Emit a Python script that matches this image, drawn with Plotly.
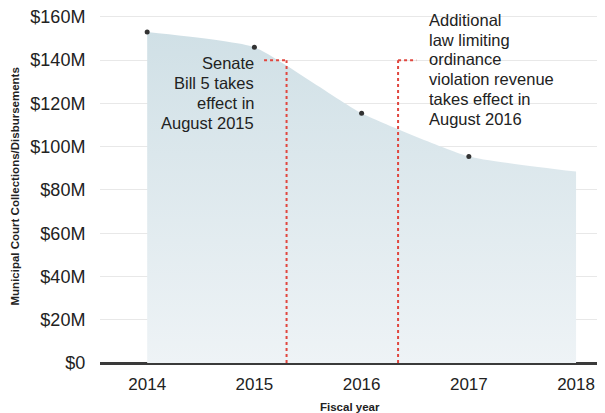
import plotly.graph_objects as go

years = [2014, 2015, 2016, 2017, 2018]
collections = [153, 146, 115.5, 95.5, 88.5]  # $M
point_years = [2014, 2015, 2016, 2017]
point_values = [153, 146, 115.5, 95.5]
y_ticks = [0, 20, 40, 60, 80, 100, 120, 140, 160]
y_tick_labels = ["$0", "$20M", "$40M", "$60M", "$80M", "$100M", "$120M", "$140M", "$160M"]
events_x = [2015.30, 2016.34]
event_top = 140
note1_lines = ["Senate", "Bill 5 takes", "effect in", "August 2015"]
note2_lines = ["Additional", "law limiting", "ordinance", "violation revenue", "takes effect in", "August 2016"]

FONT = "Liberation Sans, Arial, sans-serif"
TXT = "#222222"

# page geometry (the page adds an 8px body margin around the figure)
OFF = 8
W, H = 605, 413
L, R, T, B = 92, 8, 2, 58
pw, ph = W - L - R, H - T - B


def px(xp):
    return (xp - OFF - L) / pw


def py(yp):
    return (H - B - (yp - OFF)) / ph


fig = go.Figure()
fig.add_trace(go.Scatter(
    x=years, y=collections, mode="lines", line=dict(width=0, shape="spline", smoothing=0.45),
    fill="tozeroy",
    fillgradient=dict(type="vertical", colorscale=[[0, "rgb(238,243,246)"], [1, "rgb(208,224,230)"]]),
    hoverinfo="skip", showlegend=False))
fig.add_trace(go.Scatter(
    x=point_years, y=point_values, mode="markers",
    marker=dict(size=5, color="#333333"), showlegend=False, hoverinfo="skip"))

# event lines
dot = dict(color="#e0473f", width=2, dash="dot")
fig.add_trace(go.Scatter(x=[events_x[0], events_x[0]], y=[0, event_top], mode="lines", line=dot, showlegend=False))
fig.add_trace(go.Scatter(x=[events_x[0] - 0.21, events_x[0]], y=[event_top, event_top], mode="lines", line=dot, showlegend=False))
fig.add_trace(go.Scatter(x=[events_x[1], events_x[1]], y=[0, event_top], mode="lines", line=dot, showlegend=False))
fig.add_trace(go.Scatter(x=[events_x[1], events_x[1] + 0.17], y=[event_top, event_top], mode="lines", line=dot, showlegend=False))

# notes, one annotation per line for tight line spacing
for i, line in enumerate(note1_lines):
    fig.add_annotation(x=px(256), y=py(63.5 + 20 * i), xref="paper", yref="paper", text=line,
                       showarrow=False, xanchor="right", yanchor="middle",
                       font=dict(family=FONT, size=16.5, color=TXT))
for i, line in enumerate(note2_lines):
    fig.add_annotation(x=px(427), y=py(20 + 19.7 * i), xref="paper", yref="paper", text=line,
                       showarrow=False, xanchor="left", yanchor="middle",
                       font=dict(family=FONT, size=16.5, color=TXT))

# axis titles
fig.add_annotation(x=px(14), y=py(186.5), xref="paper", yref="paper",
                   text="<b>Municipal Court Collections/Disbursements</b>",
                   showarrow=False, textangle=-90, xanchor="center", yanchor="middle",
                   font=dict(family=FONT, size=11.5, color=TXT))
fig.add_annotation(x=px(349.5), y=py(407), xref="paper", yref="paper", text="<b>Fiscal year</b>",
                   showarrow=False, xanchor="center", yanchor="middle",
                   font=dict(family=FONT, size=11.5, color=TXT))

fig.update_layout(
    width=W, height=H,
    margin=dict(l=L, r=R, t=T, b=B),
    plot_bgcolor="white", paper_bgcolor="white",
    font=dict(family=FONT, color=TXT),
    xaxis=dict(range=[2013.56, 2018.27], tickvals=years, ticktext=[str(y) for y in years],
               showgrid=False, zeroline=False, showline=False, automargin=False,
               ticklabeloverflow="allow",
               tickfont=dict(size=17, color=TXT), ticks="outside", ticklen=6, tickcolor="rgba(0,0,0,0)"),
    yaxis=dict(range=[0, 163.2], tickvals=y_ticks, ticktext=y_tick_labels, automargin=False,
               ticklabeloverflow="allow",
               showgrid=True, gridcolor="#e8e8e8", gridwidth=1,
               zeroline=True, zerolinecolor="#3a3a3a", zerolinewidth=3,
               tickfont=dict(size=18, color=TXT), ticks="outside", ticklen=10, tickcolor="rgba(0,0,0,0)"),
)

fig.write_html("out.html")
